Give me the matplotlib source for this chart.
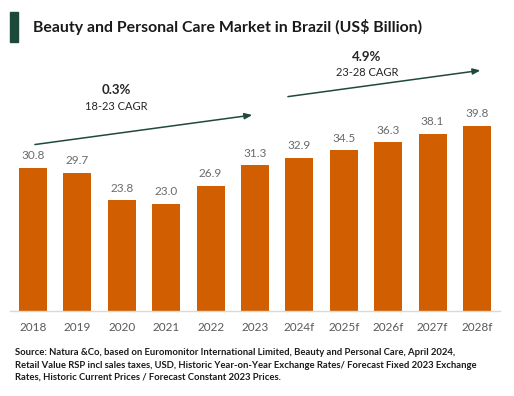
import matplotlib
matplotlib.use("Agg")
import matplotlib.pyplot as plt
import matplotlib.patches as mpatches

years = ["2018", "2019", "2020", "2021", "2022", "2023",
         "2024f", "2025f", "2026f", "2027f", "2028f"]
values = [30.8, 29.7, 23.8, 23.0, 26.9, 31.3, 32.9, 34.5, 36.3, 38.1, 39.8]

plt.rcParams["font.family"] = ["Lato", "DejaVu Sans"]

W, H = 514, 396
fig = plt.figure(figsize=(W / 100, H / 100), dpi=100)
fig.patch.set_facecolor("white")

# axes placed in pixel terms: x 10..500, y baseline 311, top 50
ax = fig.add_axes([10 / W, (H - 311) / H, 490 / W, 261 / H])
x = list(range(len(years)))
bars = ax.bar(x, values, width=0.63, color="#D15E00", zorder=2)
ax.set_xlim(-0.52, len(years) - 0.48)
ax.set_ylim(0, 56.1)

for xi, v in zip(x, values):
    ax.text(xi, v + 1.4, f"{v:.1f}", ha="center", va="bottom",
            fontsize=8.5, color="#6b6b6b")

ax.set_xticks(x)
ax.set_xticklabels(years, fontsize=8.5, color="#595959")
ax.tick_params(axis="x", length=0, pad=8)
ax.set_yticks([])
for s in ["top", "right", "left"]:
    ax.spines[s].set_visible(False)
ax.spines["bottom"].set_color("#d9d9d9")
ax.spines["bottom"].set_linewidth(1)

# CAGR arrows
arrow_kw = dict(arrowstyle="-|>,head_length=0.45,head_width=0.18",
                color="#1f4a3a", lw=1.1)
ax.annotate("", xy=(5.0, 42.2), xytext=(-0.02, 35.7), arrowprops=arrow_kw)
ax.annotate("", xy=(10.14, 51.8), xytext=(5.68, 46.0), arrowprops=arrow_kw)

ax.text(1.87, 47.5, "0.3%", ha="center", va="center", fontsize=9.5,
        fontweight="bold", color="#262626")
ax.text(1.87, 43.9, "18-23 CAGR", ha="center", va="center", fontsize=8,
        color="#262626")
ax.text(7.52, 54.6, "4.9%", ha="center", va="center", fontsize=9.5,
        fontweight="bold", color="#262626")
ax.text(7.52, 51.2, "23-28 CAGR", ha="center", va="center", fontsize=8,
        color="#262626")

# title with green marker
fig.patches.append(mpatches.Rectangle((10 / W, 1 - 42 / H), 8 / W, 30 / H,
                                      transform=fig.transFigure,
                                      color="#1d4a38"))
fig.text(33 / W, 1 - 27 / H, "Beauty and Personal Care Market in Brazil (US$ Billion)",
         ha="left", va="center", fontsize=11.4, fontweight="bold", color="#1a1a1a")

source = ("Source: Natura &Co, based on Euromonitor International Limited, Beauty and Personal Care, April 2024,\n"
          "Retail Value RSP incl sales taxes, USD, Historic Year-on-Year Exchange Rates/ Forecast Fixed 2023 Exchange\n"
          "Rates, Historic Current Prices / Forecast Constant 2023 Prices.")
fig.text(15 / W, 1 - 348 / H, source, ha="left", va="top", fontsize=6.85,
         fontweight="bold", color="#1a1a1a", linespacing=1.5)

fig.savefig("out.png", dpi=100, facecolor="white")
